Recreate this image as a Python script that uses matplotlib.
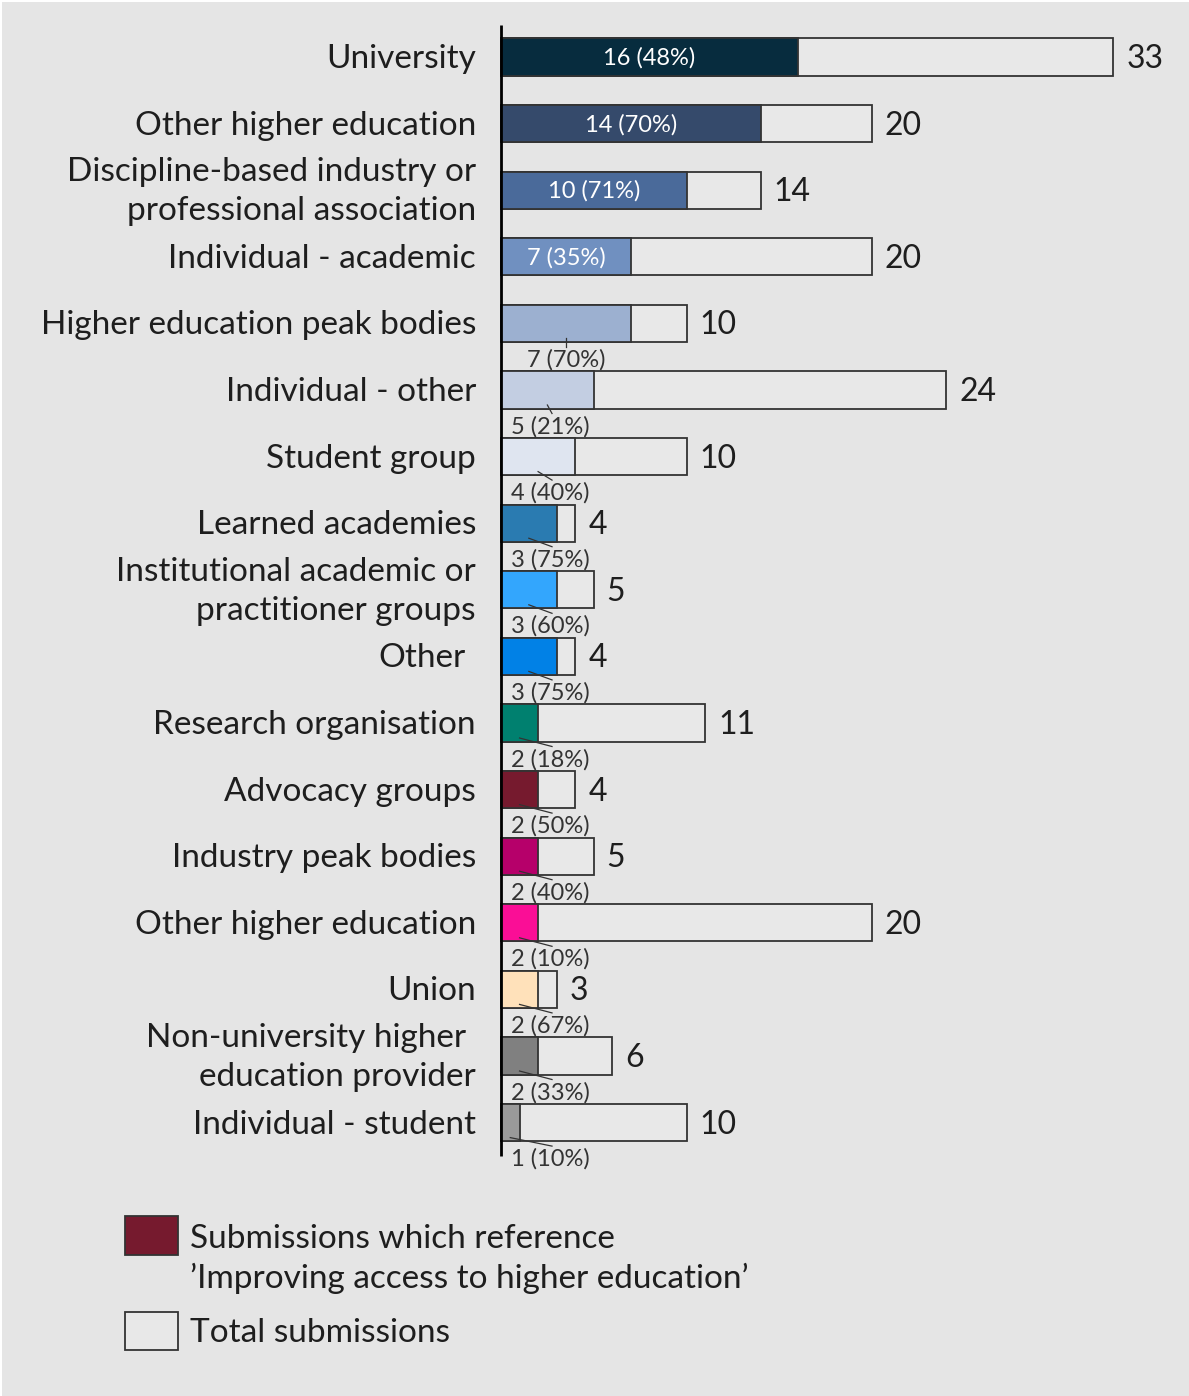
import matplotlib
matplotlib.use("Agg")
import matplotlib.pyplot as plt
from matplotlib.patches import Rectangle
from matplotlib import transforms

# Submission categories, top to bottom (each entry is a list of text lines)
categories = [
    ["University"],
    ["Other higher education"],
    ["Discipline-based industry or", "professional association"],
    ["Individual - academic"],
    ["Higher education peak bodies"],
    ["Individual - other"],
    ["Student group"],
    ["Learned academies"],
    ["Institutional academic or", "practitioner groups"],
    ["Other"],
    ["Research organisation"],
    ["Advocacy groups"],
    ["Industry peak bodies"],
    ["Other higher education"],
    ["Union"],
    ["Non-university higher", "education provider"],
    ["Individual - student"],
]
# Submissions referencing 'Improving access to higher education'
access_refs = [16, 14, 10, 7, 7, 5, 4, 3, 3, 3, 2, 2, 2, 2, 2, 2, 1]
# Total submissions per category
totals = [33, 20, 14, 20, 10, 24, 10, 4, 5, 4, 11, 4, 5, 20, 3, 6, 10]
colors = ["#072c3e", "#354a6b", "#4a6a9a", "#7090c0", "#9cb0d0", "#c3cee2",
          "#dfe5f0", "#2a7bb1", "#33a6fd", "#0181e6", "#00806f", "#761a2e",
          "#b6006a", "#fa0e96", "#ffe1ba", "#808080", "#9a9a9a"]
inside_label = [True, True, True, True] + [False] * 13

legend_labels = ["Submissions which reference\n\u2019Improving access to higher education\u2019",
                 "Total submissions"]

W, H = 1189, 1396
fig = plt.figure(figsize=(W / 100, H / 100), dpi=100)
fig.patch.set_facecolor("white")

# pixel-based transform (origin top-left)
px = transforms.Affine2D().scale(1 / W, -1 / H).translate(0, 1) + fig.transFigure
fig.patches.append(Rectangle((2, 2), W, H, transform=px, facecolor="#e5e5e5",
                             edgecolor="none", zorder=-10))

FONT = "Lato"
FS = 24          # category names and legend
FS_NUM = 23      # totals
FS_SMALL = 17    # reference counts
TXT = "#1e1e1e"
ax = fig.add_axes([0, 0, 1, 1])
ax.set_facecolor("none")
ax.axis("off")

x0_px, unit_px = 501.0, 18.55
row0_px, row_px = 57.0, 66.6
ax.set_xlim(-x0_px / unit_px, (W - x0_px) / unit_px)
ax.set_ylim((H - row0_px) / row_px, -row0_px / row_px)

n = len(categories)
ys = list(range(n))
bh = 0.556
edge = "#333333"

ax.barh(ys, totals, height=bh, color="#e8e8e8", edgecolor=edge, linewidth=1.3, zorder=2)
ax.barh(ys, access_refs, height=bh, color=colors, edgecolor=edge, linewidth=1.3, zorder=3)

# vertical axis line
ax.plot([0, 0], [-0.48, n - 0.5], color="black", lw=2.0, zorder=5, solid_capstyle="butt")

to_u = 1 / row_px
dy = 2 * to_u    # small downward nudge so glyphs sit centred on the row
for i, (lines, v, t) in enumerate(zip(categories, access_refs, totals)):
    pct = round(100 * v / t)
    lab = f"{v} ({pct}%)"
    # category name on the left
    right = -25 / unit_px
    if lines[0] in ("Other", "Non-university higher"):
        right = -35 / unit_px
    if len(lines) == 1:
        ax.text(right, i + dy, lines[0], ha="right", va="center", fontsize=FS,
                family=FONT, color=TXT)
    else:
        ax.text(right, i - 20 * to_u + dy, lines[0], ha="right", va="center",
                fontsize=FS, family=FONT, color=TXT)
        ax.text(-25 / unit_px, i + 19 * to_u + dy, lines[1], ha="right", va="center",
                fontsize=FS, family=FONT, color=TXT)
    # total value
    ax.text(t + 13 / unit_px, i + dy, str(t), ha="left", va="center", fontsize=FS_NUM,
            family=FONT, color=TXT)
    # reference count label
    if inside_label[i]:
        ax.text(v / 2, i + dy / 2, lab, ha="center", va="center", fontsize=FS_SMALL,
                family=FONT, color="white", zorder=6)
    else:
        bottom = i + bh / 2
        lx = max(v / 2, 2.65)
        ax.plot([v / 2, max(v / 2, 2.75)], [bottom - 3.5 * to_u, bottom + 5 * to_u],
                color="#333333", lw=0.9, zorder=6)
        ax.text(lx, bottom + 17 * to_u + dy / 2, lab, ha="center", va="center",
                fontsize=FS_SMALL, family=FONT, color="#333333", zorder=6)

# legend
fig.patches.append(Rectangle((125, 1216), 53, 39, transform=px, facecolor="#761a2e",
                             edgecolor=edge, lw=1.3, zorder=3))
fig.patches.append(Rectangle((125, 1312), 53, 38, transform=px, facecolor="#e8e8e8",
                             edgecolor=edge, lw=1.3, zorder=3))
l1, l2 = legend_labels[0].split("\n")
fig.text(190, 1239, l1, transform=px, ha="left", va="center", fontsize=FS,
         family=FONT, color=TXT)
fig.text(190, 1278, l2, transform=px, ha="left", va="center", fontsize=FS,
         family=FONT, color=TXT)
fig.text(190, 1333, legend_labels[1], transform=px, ha="left", va="center",
         fontsize=FS, family=FONT, color=TXT)

fig.savefig("out.png", dpi=100, facecolor=fig.get_facecolor())
